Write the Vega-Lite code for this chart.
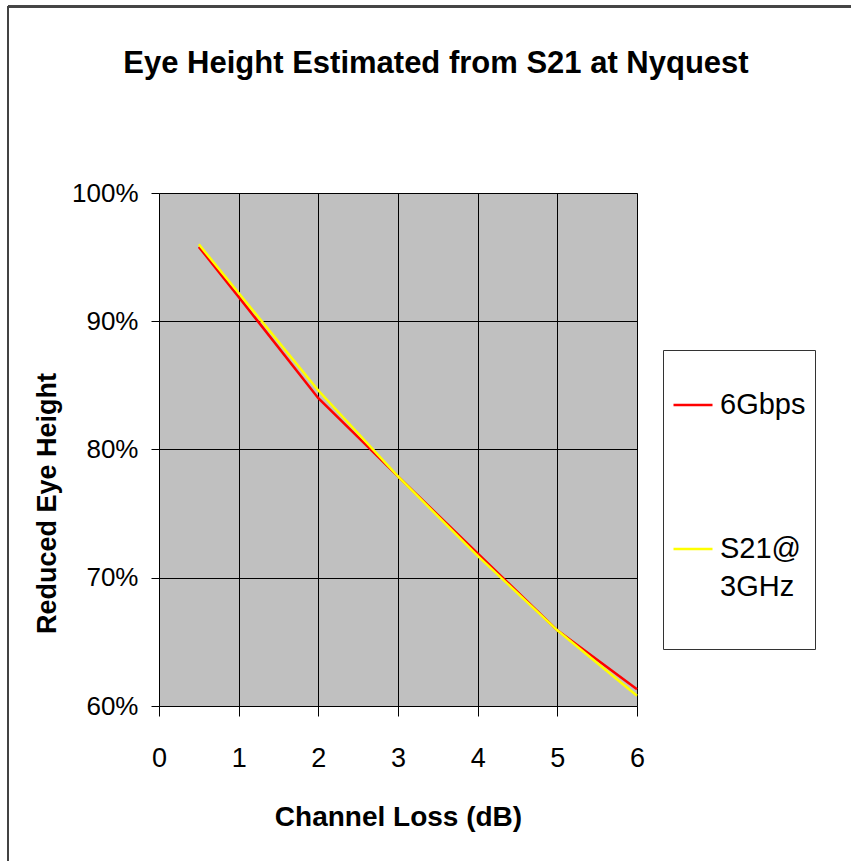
{
  "$schema": "https://vega.github.io/schema/vega-lite/v6.json",
  "width": 478,
  "height": 513,
  "autosize": {"type": "none"},
  "padding": {"left": 159, "top": 193, "right": 214, "bottom": 155},
  "background": "white",
  "title": {
    "text": "Eye Height Estimated from S21 at Nyquest",
    "font": "Liberation Sans",
    "fontSize": 31,
    "fontWeight": "bold",
    "color": "black",
    "anchor": "middle",
    "frame": "group",
    "baseline": "alphabetic",
    "offset": -98,
    "dx": 38
  },
  "data": {
    "values": [
      {"loss": 0.5, "series": "6Gbps", "eye": 0.958},
      {"loss": 1, "series": "6Gbps", "eye": 0.919},
      {"loss": 2, "series": "6Gbps", "eye": 0.840},
      {"loss": 3, "series": "6Gbps", "eye": 0.779},
      {"loss": 4, "series": "6Gbps", "eye": 0.719},
      {"loss": 5, "series": "6Gbps", "eye": 0.659},
      {"loss": 6, "series": "6Gbps", "eye": 0.613},
      {"loss": 0.5, "series": "S21@3GHz", "eye": 0.960},
      {"loss": 1, "series": "S21@3GHz", "eye": 0.922},
      {"loss": 2, "series": "S21@3GHz", "eye": 0.846},
      {"loss": 3, "series": "S21@3GHz", "eye": 0.779},
      {"loss": 4, "series": "S21@3GHz", "eye": 0.717},
      {"loss": 5, "series": "S21@3GHz", "eye": 0.659},
      {"loss": 6, "series": "S21@3GHz", "eye": 0.608}
    ]
  },
  "layer": [
    {
      "mark": {"type": "rule", "clip": false, "color": "#444444", "strokeWidth": 1.5},
      "encoding": {
        "x": {"datum": -1.894, "type": "quantitative", "scale": {"domain": [0, 6]}},
        "y": {"datum": 1.1455, "type": "quantitative", "scale": {"domain": [0.6, 1]}},
        "y2": {"datum": 0.3}
      }
    },
    {
      "mark": {"type": "rule", "clip": false, "color": "#444444", "strokeWidth": 1.5},
      "encoding": {
        "x": {"datum": -1.894, "type": "quantitative"},
        "x2": {"datum": 9},
        "y": {"datum": 1.1455, "type": "quantitative"}
      }
    },
    {
      "mark": {"type": "line", "strokeWidth": 2.5, "clip": false},
      "encoding": {
        "x": {
          "field": "loss",
          "type": "quantitative",
          "scale": {"domain": [0, 6], "nice": false, "zero": false},
          "axis": {
            "values": [0, 1, 2, 3, 4, 5, 6],
            "format": "d",
            "title": "Channel Loss (dB)",
            "grid": true,
            "gridColor": "black",
            "gridOpacity": 1,
            "gridWidth": 1,
            "domain": false,
            "tickColor": "black",
            "tickSize": 10,
            "tickWidth": 1,
            "labelFont": "Liberation Sans",
            "labelFontSize": 27,
            "labelColor": "black",
            "labelBaseline": "alphabetic",
            "labelPadding": 50,
            "labelFlush": false,
            "titleFont": "Liberation Sans",
            "titleFontSize": 28,
            "titleFontWeight": "bold",
            "titleColor": "black",
            "titleBaseline": "alphabetic",
            "titleY": 119
          }
        },
        "y": {
          "field": "eye",
          "type": "quantitative",
          "scale": {"domain": [0.6, 1], "nice": false, "zero": false},
          "axis": {
            "values": [0.6, 0.7, 0.8, 0.9, 1.0],
            "format": ".0%",
            "title": "Reduced Eye Height",
            "grid": true,
            "gridColor": "black",
            "gridOpacity": 1,
            "gridWidth": 1,
            "domain": false,
            "tickColor": "black",
            "tickSize": 8,
            "tickWidth": 1,
            "labelFont": "Liberation Sans",
            "labelFontSize": 26,
            "labelColor": "black",
            "labelBaseline": "middle",
            "labelPadding": 13,
            "labelFlush": false,
            "titleFont": "Liberation Sans",
            "titleFontSize": 27,
            "titleFontWeight": "bold",
            "titleColor": "black",
            "titleAngle": -90,
            "titleAlign": "center",
            "titleBaseline": "alphabetic",
            "titleX": -104,
            "titleY": 310
          }
        },
        "color": {
          "field": "series",
          "type": "nominal",
          "scale": {"domain": ["6Gbps", "S21@3GHz"], "range": ["#FF0000", "#FFFF00"]},
          "legend": {
            "title": " ",
            "titleFontSize": 1,
            "titlePadding": 24,
            "orient": "none",
            "legendX": 504,
            "legendY": 157,
            "fillColor": "white",
            "strokeColor": "#333333",
            "padding": 9,
            "symbolType": "stroke",
            "symbolSize": 1521,
            "symbolStrokeWidth": 2.5,
            "labelFont": "Liberation Sans",
            "labelFontSize": 29,
            "labelColor": "black",
            "labelOffset": 6,
            "labelLimit": 200,
            "labelBaseline": "middle",
            "labelExpr": "datum.label == 'S21@3GHz' ? ['S21@', '3GHz', ''] : datum.label",
            "rowPadding": 108,
            "encode": {"labels": {"update": {"lineHeight": {"value": 38}}}}
          }
        },
        "order": {"field": "series"}
      }
    }
  ],
  "config": {
    "view": {"fill": "#C0C0C0", "stroke": "#808080", "strokeWidth": 1}
  }
}
